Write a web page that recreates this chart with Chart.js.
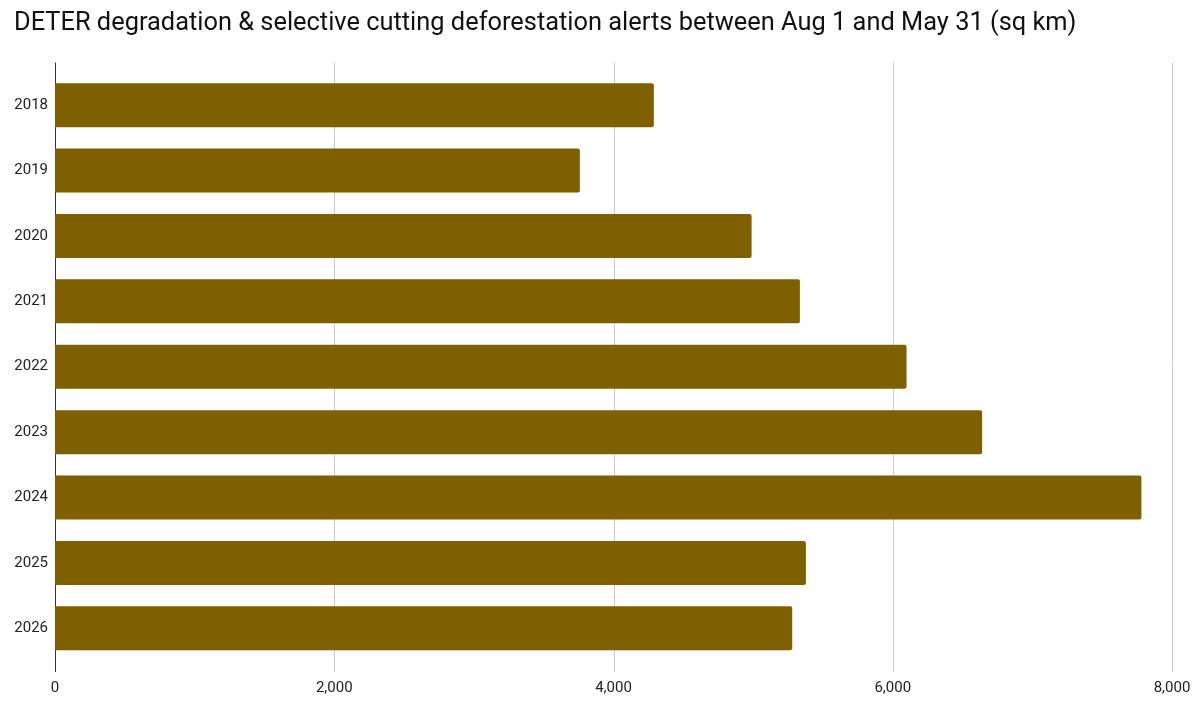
<!DOCTYPE html>
<html>
<head>
<meta charset="utf-8">
<script src="https://cdn.jsdelivr.net/npm/chart.js@4.4.1/dist/chart.umd.min.js"></script>
<style>
  html, body { margin: 0; padding: 0; background: #fff; }
  #wrap { width: 1200px; height: 711px; position: relative; }
</style>
</head>
<body>
<div id="wrap"><canvas id="grafico" width="1200" height="711"></canvas></div>
<script>
// dados
const anos = ["2018", "2019", "2020", "2021", "2022", "2023", "2024", "2025", "2026"];
const alertas = [4289, 3759, 4989, 5335, 6099, 6640, 7781, 5378, 5280];
const ticksX = [0, 2000, 4000, 6000, 8000];

const titulo = "DETER degradation & selective cutting deforestation alerts between Aug 1 and May 31 (sq km)";
const corBarra = "#7f6000";

// linhas de grade um pouco além da área do gráfico, como no original
const gradePlugin = {
  id: "gradeExtendida",
  beforeDatasetsDraw(chart) {
    const { ctx, chartArea, scales } = chart;
    const topo = chartArea.top - 10;
    const base = chartArea.bottom + 11;
    ctx.save();
    ticksX.forEach((v) => {
      const x = Math.round(scales.x.getPixelForValue(v)) + 0.5;
      ctx.beginPath();
      ctx.strokeStyle = v === 0 ? "#333333" : "#cccccc";
      ctx.lineWidth = 1;
      ctx.moveTo(x, topo);
      ctx.lineTo(x, base);
      ctx.stroke();
    });
    ctx.restore();
  },
};

const ctx = document.getElementById("grafico").getContext("2d");
new Chart(ctx, {
  type: "bar",
  data: {
    labels: anos,
    datasets: [{
      data: alertas,
      backgroundColor: corBarra,
      borderRadius: 2,
      borderSkipped: "start",
      categoryPercentage: 1,
      barPercentage: 0.673,
    }],
  },
  options: {
    indexAxis: "y",
    responsive: false,
    animation: false,
    devicePixelRatio: 1,
    layout: { padding: { left: 14, right: 28, top: 0, bottom: 0 } },
    plugins: {
      legend: { display: false },
      tooltip: { enabled: false },
      title: {
        display: true,
        text: titulo,
        align: "start",
        color: "#111111",
        font: { family: "Roboto", size: 25.4, weight: "normal" },
        padding: { top: 8, bottom: 34 },
      },
    },
    scales: {
      x: {
        min: 0,
        max: 8000,
        afterBuildTicks: (axis) => { axis.ticks = ticksX.map((v) => ({ value: v })); },
        afterFit: (axis) => {
          axis.height = 50;
          axis.paddingLeft = 0;
          axis.paddingRight = 0;
        },
        ticks: {
          color: "#222222",
          font: { family: "Roboto", size: 15 },
          padding: 18,
          maxRotation: 0,
          callback: (v) => Number(v).toLocaleString("en-US"),
        },
        grid: { display: false, drawTicks: false },
        border: { display: false },
      },
      y: {
        afterFit: (axis) => { axis.width = 41; },
        ticks: {
          color: "#222222",
          font: { family: "Roboto", size: 15 },
          padding: 7,
        },
        grid: { display: false, drawTicks: false },
        border: { display: false },
      },
    },
  },
  plugins: [gradePlugin],
});
</script>
</body>
</html>
